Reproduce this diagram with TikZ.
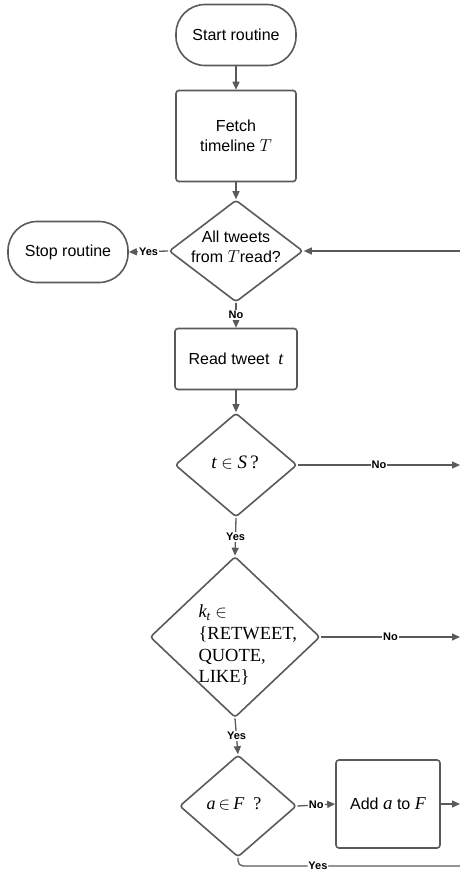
\documentclass[tikz,border=0pt]{standalone}
\usepackage{fontspec}
\setmainfont{Liberation Sans}
\newfontfamily\tms{Liberation Serif}
\newcommand{\mv}[1]{{\tms\itshape #1}}
\usetikzlibrary{shapes.geometric,arrows.meta}
\definecolor{ln}{HTML}{5A5A5A}
\begin{document}
\begin{tikzpicture}[x=1pt,y=-1pt,
  every node/.style={font=\fontsize{16}{20}\selectfont, text=black},
  base/.style={draw=ln, line width=1.6pt, fill=white},
  term/.style={base, rectangle, rounded corners=29pt, minimum width=120pt, minimum height=61pt, inner sep=0pt},
  proc/.style={base, rectangle, rounded corners=3pt, inner sep=0pt},
  dia/.style={base, diamond, rounded corners=3pt, inner sep=0pt},
  lbl/.style={font=\bfseries\fontsize{11}{13}\selectfont, fill=white, inner sep=1pt},
  conn/.style={draw=ln, line width=1.3pt, -{Triangle[length=8pt,width=7pt]}},
  plain/.style={draw=ln, line width=1.3pt}
]
\useasboundingbox (0,0) rectangle (460,871);

% nodes
\node[term] (start) at (236,35) {Start routine};
\node[proc, minimum width=120pt, minimum height=91pt, align=center] (fetch) at (236,136) {Fetch\\timeline {\fontsize{19}{20}\selectfont$T$}};
\node[dia, minimum width=134pt, minimum height=102pt] (d1) at (236,251) {};
\node[align=center] (d1t) at (236,247) {All tweets\\from {\fontsize{19}{20}\selectfont$T$}read?};
\node[term] (stop) at (68,252) {Stop routine};
\node[proc, minimum width=122pt, minimum height=61pt] (read) at (236,359) {Read tweet \ \mv{\fontsize{18}{20}\selectfont t}};
\node[dia, minimum width=122pt, minimum height=104pt] (d2) at (236,465) {};
\node[font=\tms\fontsize{19}{20}\selectfont] (d2t) at (235,463) {\mv{t} $\in$ \mv{S}\,?};
\node[dia, minimum width=170pt, minimum height=161pt] (d3) at (235,637) {};
\node[anchor=west, align=left, font=\tms\fontsize{18.5}{21.7}\selectfont] (d3t) at (195,645)
  {{\itshape k}\textsubscript{\itshape t} $\in$\\\{RETWEET,\\QUOTE,\\LIKE\}};
\node[dia, minimum width=117pt, minimum height=102pt] (d4) at (238,806) {};
\node[font=\tms\fontsize{18}{20}\selectfont] (d4t) at (234,804) {\mv{a}\,$\in$\,\mv{F}\ \ ?};
\node[proc, minimum width=104pt, minimum height=88pt] (add) at (388,804) {Add {\fontsize{19}{20}\selectfont\mv{a}} to {\fontsize{18}{20}\selectfont\mv{F}}};

% free ends
\coordinate (r1) at (460,251);
\coordinate (r2) at (460,465);
\coordinate (r3) at (460,637);
\coordinate (r4) at (460,804);
\coordinate (r5) at (460,866);

% connectors
\draw[conn] (start) -- (fetch);
\draw[conn] (fetch) -- (d1);
\draw[conn] (d1.west) -- node[lbl]{Yes} (stop.east);
\draw[conn] (r1) -- (d1.east);
\draw[conn] (d1.south) -- node[lbl]{No} (read.north);
\draw[conn] (read) -- (d2.north);
\draw[conn] (d2.east) -- node[lbl]{No} (r2);
\draw[conn] (d2.south) -- node[lbl]{Yes} (d3.north);
\draw[conn] (d3.east) -- node[lbl]{No} (r3);
\draw[conn] (d3.south) -- node[lbl]{Yes} (d4.north);
\draw[conn] (d4.east) -- node[lbl]{No} (add.west);
\draw[conn] (add.east) -- (r4);
\draw[plain, rounded corners=5pt] (d4.south) |- node[lbl, pos=0.68]{Yes} (r5);
\end{tikzpicture}
\end{document}
